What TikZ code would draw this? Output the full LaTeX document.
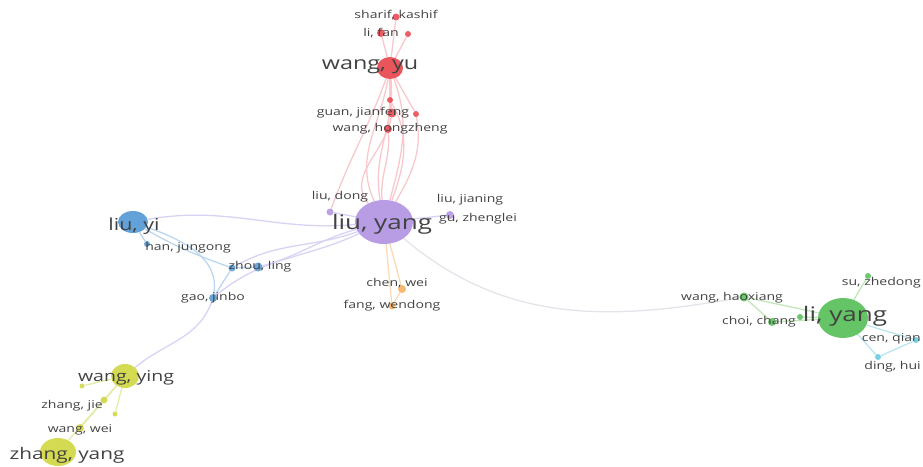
\documentclass[tikz,border=0pt]{standalone}
\usepackage{fontspec}
\setmainfont{Open Sans}
\usepackage{tikz}
\usetikzlibrary{shapes.geometric,backgrounds}
\definecolor{clred}{RGB}{232,66,74}
\definecolor{clpurple}{RGB}{176,146,226}
\definecolor{clblue}{RGB}{82,152,212}
\definecolor{clorange}{RGB}{246,172,92}
\definecolor{clyellow}{RGB}{208,214,64}
\definecolor{clgreen}{RGB}{84,190,84}
\definecolor{clcyan}{RGB}{96,200,224}
\definecolor{labgray}{RGB}{66,66,66}
\tikzset{
  authbig/.style={ellipse, draw=none, inner sep=0pt, fill opacity=0.9},
  authdot/.style={circle, draw=none, inner sep=0pt, fill opacity=0.85},
  authlabel/.style={text=labgray, inner sep=0pt, xscale=1.3, transform shape, font=\fontsize{10.8}{11}\selectfont},
  biglabel/.style={text=labgray, inner sep=0pt, xscale=1.3, transform shape, font=\fontsize{20}{22}\selectfont},
  midlabel/.style={text=labgray, inner sep=0pt, xscale=1.3, transform shape, font=\fontsize{#1}{18}\selectfont},
  midlabel/.default=16,
  colink/.style={line width=1.3pt},
  redlink/.style={colink, draw={rgb,255:red,248;green,200;blue,205}},
  purplelink/.style={colink, draw={rgb,255:red,218;green,210;blue,244}},
  bluelink/.style={colink, draw={rgb,255:red,186;green,214;blue,240}},
  orangelink/.style={colink, draw={rgb,255:red,250;green,218;blue,182}},
  yellowlink/.style={colink, draw={rgb,255:red,230;green,234;blue,170}},
  greenlink/.style={colink, draw={rgb,255:red,194;green,230;blue,186}},
  cyanlink/.style={colink, draw={rgb,255:red,186;green,230;blue,240}},
  greylink/.style={colink, draw={rgb,255:red,230;green,226;blue,234}}
}

\begin{document}
\begin{tikzpicture}[x=1pt, y=-1pt]
  \useasboundingbox (0,0) rectangle (923,466);

  % red cluster
  \node[authbig, fill=clred, minimum width=26pt, minimum height=22pt] (wangyu) at (390,68) {};
  \node[authdot, fill=clred, minimum size=7pt] (sharif) at (396,17) {};
  \node[authdot, fill=clred, minimum size=8pt] (lifan) at (381,33) {};
  \node[authdot, fill=clred, minimum size=6pt] (redA) at (408,34) {};
  \node[authdot, fill=clred, minimum size=6pt] (redB) at (390,100) {};
  \node[authdot, fill=clred, minimum size=9pt] (guan) at (392,113) {};
  \node[authdot, fill=clred, minimum size=6pt] (redC) at (416,114) {};
  \node[authdot, fill=clred, minimum size=8pt] (wanghz) at (388,129) {};

  % purple cluster
  \node[authbig, fill=clpurple, minimum width=58pt, minimum height=44pt] (liuyang) at (384,222) {};
  \node[authdot, fill=clpurple, minimum size=7pt] (liudong) at (330,212) {};
  \node[authdot, fill=clpurple, minimum size=8pt] (guzl) at (450,215) {};

  % orange cluster
  \node[authdot, fill=clorange, minimum size=8pt] (chenwei) at (402,289) {};
  \node[authdot, fill=clorange, minimum size=7pt] (fangwd) at (392,306) {};

  % blue cluster
  \node[authbig, fill=clblue, minimum width=30pt, minimum height=22pt] (liuyi) at (133,222) {};
  \node[authdot, fill=clblue, minimum size=6pt] (hanjg) at (147,244) {};
  \node[authdot, fill=clblue, minimum size=7pt] (blueA) at (232,268) {};
  \node[authdot, fill=clblue, minimum size=9pt] (zhouling) at (258,267) {};
  \node[authdot, fill=clblue, minimum size=8pt] (gaojb) at (213,298) {};

  % yellow cluster
  \node[authbig, fill=clyellow, minimum width=28pt, minimum height=24pt] (wangying) at (125,376) {};
  \node[authdot, fill=clyellow, minimum size=5pt] (yellowA) at (82,386) {};
  \node[authdot, fill=clyellow, minimum size=7pt] (zhangjie) at (104,400) {};
  \node[authdot, fill=clyellow, minimum size=5pt] (yellowB) at (115,414) {};
  \node[authdot, fill=clyellow, minimum size=8pt] (wangwei) at (80,428) {};
  \node[authbig, fill=clyellow, minimum width=36pt, minimum height=28pt] (zhangyang) at (58,452) {};

  % green and cyan clusters
  \node[authbig, fill=clgreen, minimum width=50pt, minimum height=40pt] (liyang) at (843,318) {};
  \node[authdot, fill=clgreen, minimum size=9pt] (wanghx) at (744,297) {};
  \node[authdot, fill=clgreen, minimum size=8pt] (choi) at (772,322) {};
  \node[authdot, fill=clgreen, minimum size=6pt] (greenA) at (800,317) {};
  \node[authdot, fill=clgreen, minimum size=6pt] (suzd) at (868,276) {};
  \node[authdot, fill=clcyan, minimum size=6pt] (cenqian) at (916,340) {};
  \node[authdot, fill=clcyan, minimum size=6pt] (dinghui) at (878,357) {};

  % labels
  \node[authlabel] (tsharif) at (396,15) {sharif, kashif};
  \node[authlabel] (tlifan) at (381,33) {li, fan};
  \node[midlabel=18] (twangyu) at (370,67) {wang, yu};
  \node[authlabel] (tguan) at (363,113) {guan, jianfeng};
  \node[authlabel] (twanghz) at (390,129) {wang, hongzheng};
  \node[biglabel] (tliuyang) at (382,224) {liu, yang};
  \node[authlabel] (tliudong) at (340,197) {liu, dong};
  \node[authlabel] (tliujn) at (470,200) {liu, jianing};
  \node[authlabel] (tguzl) at (478,219) {gu, zhenglei};
  \node[authlabel] (tchenwei) at (397,283) {chen, wei};
  \node[authlabel] (tfangwd) at (392,306) {fang, wendong};
  \node[midlabel=16.5] (tliuyi) at (134,226) {liu, yi};
  \node[authlabel] (thanjg) at (188,248) {han, jungong};
  \node[authlabel] (tzhouling) at (260,267) {zhou, ling};
  \node[authlabel] (tgaojb) at (213,298) {gao, jinbo};
  \node[midlabel=15] (twangying) at (126,378) {wang, ying};
  \node[authlabel] (tzhangjie) at (72,406) {zhang, jie};
  \node[authlabel] (twangwei) at (80,430) {wang, wei};
  \node[midlabel=16] (tzhangyang) at (67,455) {zhang, yang};
  \node[biglabel] (tliyang) at (845,316) {li, yang};
  \node[authlabel] (twanghx) at (732,298) {wang, haoxiang};
  \node[authlabel] (tchoi) at (759,322) {choi, chang};
  \node[authlabel, anchor=east] (tsuzd) at (921,283) {su, zhedong};
  \node[authlabel, anchor=east] (tcenqian) at (921,339) {cen, qian};
  \node[authlabel, anchor=east] (tdinghui) at (921,367) {ding, hui};

  \begin{scope}[on background layer]
    % red links
    \draw[redlink] (liuyang) to[out=115, in=-100] (wangyu);
    \draw[redlink] (liuyang) to[out=100, in=-85] (wangyu);
    \draw[redlink] (liuyang) to[out=75, in=-70] (wangyu);
    \draw[redlink] (liudong) to[out=70, in=-110] (wangyu);
    \draw[redlink] (liuyang) to[out=130, in=-100] (guan);
    \draw[redlink] (liuyang) to[out=70, in=-60] (redB);
    \draw[redlink] (liuyang) to[out=60, in=-80] (redC);
    \draw[redlink] (liuyang) to[out=95, in=-85] (wanghz);
    \draw[redlink] (wangyu) -- (sharif);
    \draw[redlink] (wangyu) -- (lifan);
    \draw[redlink] (wangyu) -- (redA);
    \draw[redlink] (wangyu) -- (redB);
    \draw[redlink] (wangyu) -- (guan);
    \draw[redlink] (wangyu) -- (redC);
    \draw[redlink] (redB) -- (wanghz);
    % purple links
    \draw[purplelink] (liuyang) -- (liudong);
    \draw[purplelink] (liuyang) -- (guzl);
    \draw[purplelink] (liuyang) to[out=185, in=10] (liuyi);
    \draw[purplelink] (liuyang) to[out=195, in=15] (zhouling);
    \draw[purplelink] (liuyang) to[out=200, in=30] (blueA);
    \draw[purplelink] (liuyang) to[out=205, in=40] (gaojb);
    \draw[purplelink] (gaojb) to[out=-110, in=40] (wangying);
    \draw[greylink] (liuyang) to[out=-40, in=190] (wanghx);
    % blue links
    \draw[bluelink] (liuyi) to[out=-20, in=80] (gaojb);
    \draw[bluelink] (liuyi) -- (hanjg);
    \draw[bluelink] (liuyi) to[out=-30, in=160] (blueA);
    \draw[bluelink] (blueA) -- (zhouling);
    \draw[bluelink] (blueA) -- (gaojb);
    % orange links
    \draw[orangelink] (liuyang) -- (chenwei);
    \draw[orangelink] (liuyang) -- (fangwd);
    \draw[orangelink] (chenwei) -- (fangwd);
    % yellow links
    \draw[yellowlink] (wangying) -- (yellowA);
    \draw[yellowlink] (wangying) -- (zhangjie);
    \draw[yellowlink] (wangying) -- (yellowB);
    \draw[yellowlink] (wangying) -- (wangwei);
    \draw[yellowlink] (wangying) -- (zhangyang);
    \draw[yellowlink] (zhangjie) -- (wangwei);
    % green and cyan links
    \draw[greenlink] (liyang) -- (wanghx);
    \draw[greenlink] (liyang) -- (choi);
    \draw[greenlink] (liyang) -- (greenA);
    \draw[greenlink] (liyang) -- (suzd);
    \draw[greenlink] (wanghx) -- (choi);
    \draw[cyanlink] (liyang) -- (cenqian);
    \draw[cyanlink] (liyang) -- (dinghui);
    \draw[cyanlink] (cenqian) -- (dinghui);
  \end{scope}
\end{tikzpicture}
\end{document}
